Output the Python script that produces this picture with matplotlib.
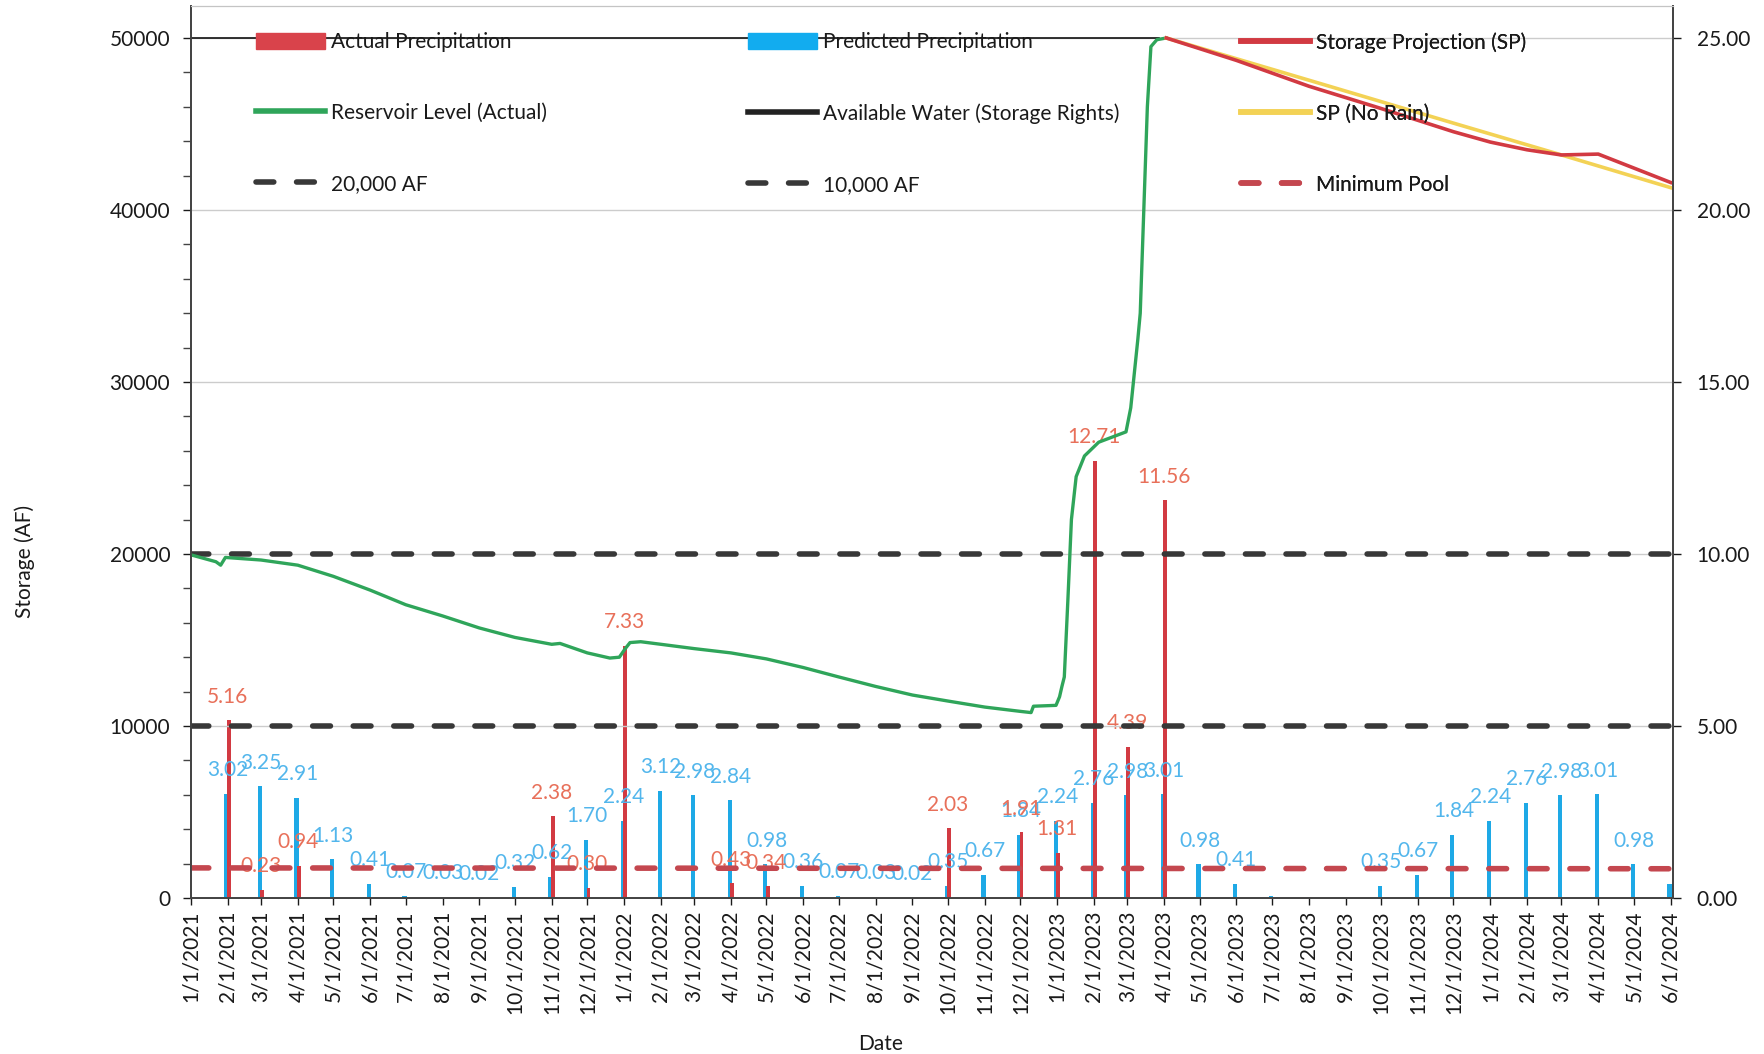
import matplotlib
matplotlib.use("Agg")
import matplotlib.pyplot as plt
from matplotlib.lines import Line2D
from matplotlib.patches import Patch
from matplotlib.ticker import MultipleLocator, FixedLocator
import pandas as pd

plt.rcParams["font.family"] = ["Lato", "DejaVu Sans"]
FS = 15

# monthly precipitation (inches, right axis)
PRED_DATES = pd.date_range("2021-02-01", "2024-06-01", freq="MS")
PRED_VALUES = [3.02, 3.25, 2.91, 1.13, 0.41, 0.07, 0.03, 0.02, 0.32, 0.62, 1.70,
               2.24, 3.12, 2.98, 2.84, 0.98, 0.36, 0.07, 0.03, 0.02, 0.35, 0.67, 1.84,
               2.24, 2.76, 2.98, 3.01, 0.98, 0.41, 0.07, 0.03, 0.02, 0.35, 0.67, 1.84,
               2.24, 2.76, 2.98, 3.01, 0.98, 0.41]
PRED_UNLABELED = ["2023-07-01", "2023-08-01", "2023-09-01", "2024-06-01"]

ACTUAL_DATES = ["2021-02-01", "2021-03-01", "2021-04-01", "2021-11-01", "2021-12-01",
                "2022-01-01", "2022-04-01", "2022-05-01", "2022-10-01", "2022-12-01",
                "2023-01-01", "2023-02-01", "2023-03-01", "2023-04-01"]
ACTUAL_VALUES = [5.16, 0.23, 0.94, 2.38, 0.30, 7.33, 0.43, 0.34, 2.03, 1.91,
                 1.31, 12.71, 4.39, 11.56]

# reservoir level (AF, left axis)
LEVEL_DATES = ["2021-01-01", "2021-01-22", "2021-01-26", "2021-01-30", "2021-03-01",
               "2021-04-01", "2021-05-01", "2021-06-01", "2021-07-01", "2021-08-01",
               "2021-09-01", "2021-10-01", "2021-11-01", "2021-11-08", "2021-12-01",
               "2021-12-20", "2021-12-28", "2022-01-02", "2022-01-06", "2022-01-15",
               "2022-02-01", "2022-03-01", "2022-04-01", "2022-05-01", "2022-06-01",
               "2022-07-01", "2022-08-01", "2022-09-01", "2022-10-01", "2022-11-01",
               "2022-12-01", "2022-12-10", "2022-12-12", "2022-12-31", "2023-01-03",
               "2023-01-05", "2023-01-07", "2023-01-10", "2023-01-13", "2023-01-17",
               "2023-01-24", "2023-02-05", "2023-02-28", "2023-03-04", "2023-03-07",
               "2023-03-10", "2023-03-12", "2023-03-15", "2023-03-18", "2023-03-21",
               "2023-03-26", "2023-04-03"]
LEVEL_VALUES = [19950, 19550, 19350, 19800, 19650,
                19350, 18700, 17900, 17050, 16400,
                15700, 15150, 14750, 14800, 14250,
                13950, 14000, 14500, 14850, 14900,
                14750, 14500, 14250, 13900, 13400,
                12850, 12300, 11800, 11450, 11100,
                10850, 10780, 11150, 11200, 11700,
                12300, 12850, 17300, 22000, 24500,
                25700, 26500, 27100, 28500, 30500,
                32500, 34000, 40000, 46000, 49500,
                49900, 50000]

STORAGE_RIGHTS_DATES = ["2021-01-01", "2023-03-28"]
STORAGE_RIGHTS_VALUES = [50000, 50000]

SP_DATES = ["2023-04-03", "2023-06-01", "2023-08-01", "2023-10-01", "2023-12-01",
            "2024-01-01", "2024-02-01", "2024-03-01", "2024-04-01", "2024-06-01"]
SP_VALUES = [50000, 48700, 47200, 45900, 44550, 43950, 43500, 43200, 43250, 41600]

NORAIN_DATES = ["2023-04-03", "2023-08-01", "2023-12-01", "2024-03-01", "2024-06-01"]
NORAIN_VALUES = [50000, 47550, 45050, 43200, 41300]

LINE_DATES = ["2021-01-01", "2024-06-03"]
AF20K = [20000, 20000]
AF10K = [10000, 10000]
MIN_POOL = [1750, 1700]

RED = "#d23a42"
BLUE = "#1ea9e6"
GREEN = "#2fa55a"
DARK = "#383838"
POOL = "#c4474f"
YELLOW = "#f3d255"
RED_TXT = "#e8705a"
BLUE_TXT = "#52b6ec"
TXT = "#1a1a1a"

fig = plt.figure(figsize=(17.64, 10.54), dpi=100)
ax = fig.add_axes([191 / 1764, 1 - 898 / 1054, (1673 - 191) / 1764, (898 - 6) / 1054])
ax2 = ax.twinx()
ax.set_zorder(ax2.get_zorder() + 1)
ax.patch.set_visible(False)

# precipitation bars
pred_x = pd.to_datetime(PRED_DATES)
act_x = pd.to_datetime(ACTUAL_DATES)
ax2.bar(pred_x - pd.Timedelta(days=1), PRED_VALUES, width=3.6, color=BLUE, lw=0)
ax2.bar(act_x + pd.Timedelta(days=1), ACTUAL_VALUES, width=3.2, color=RED, lw=0)
skip = set(pd.to_datetime(PRED_UNLABELED))
for d, v in zip(pred_x, PRED_VALUES):
    if d in skip:
        continue
    ax2.annotate(f"{v:.2f}", (d, v), xytext=(0, 17), textcoords="offset points",
                 ha="center", va="center", fontsize=FS, color=BLUE_TXT)
for d, v in zip(act_x, ACTUAL_VALUES):
    ax2.annotate(f"{v:.2f}", (d, v), xytext=(0, 17), textcoords="offset points",
                 ha="center", va="center", fontsize=FS, color=RED_TXT)

# storage lines
dash = dict(lw=4, dashes=(3.2, 4.1), dash_capstyle="round")
lx = pd.to_datetime(LINE_DATES)
ax.plot(lx, AF20K, color=DARK, **dash)
ax.plot(lx, AF10K, color=DARK, **dash)
ax.plot(lx, MIN_POOL, color=POOL, **dash)
ax.plot(pd.to_datetime(STORAGE_RIGHTS_DATES), STORAGE_RIGHTS_VALUES, color="#111111", lw=1.2)
ax.plot(pd.to_datetime(LEVEL_DATES), LEVEL_VALUES, color=GREEN, lw=2.4)
ax.plot(pd.to_datetime(NORAIN_DATES), NORAIN_VALUES, color=YELLOW, lw=2.6)
ax.plot(pd.to_datetime(SP_DATES), SP_VALUES, color=RED, lw=2.6)

# axes
ax.set_xlim(pd.Timestamp("2021-01-01"), pd.Timestamp("2024-06-03"))
ax.set_ylim(0, 51860)
ax2.set_ylim(0, 25.93)
ticks = pd.date_range("2021-01-01", "2024-06-01", freq="MS")
ax.set_xticks(ticks)
ax.set_xticklabels([f"{d.month}/{d.day}/{d.year}" for d in ticks], rotation=90)
ax.yaxis.set_major_locator(FixedLocator([0, 10000, 20000, 30000, 40000, 50000]))
ax.yaxis.set_minor_locator(MultipleLocator(2000))
ax2.yaxis.set_major_locator(FixedLocator([0, 5, 10, 15, 20, 25]))
ax2.set_yticklabels([f"{v:.2f}" for v in [0, 5, 10, 15, 20, 25]])
ax.yaxis.grid(True, color="#cccccc", lw=1)
for a in (ax, ax2):
    a.tick_params(labelsize=FS, colors=TXT, length=6, width=1, direction="out")
    for s in ("left", "right", "bottom"):
        a.spines[s].set_color("#444444")
        a.spines[s].set_linewidth(1.3)
    a.spines["top"].set_color("#c4c4c4")
ax.tick_params(axis="y", which="minor", length=6, width=1, color="#444444")
ax.tick_params(axis="x", length=5, pad=4)
ax.tick_params(axis="y", pad=9)
ax2.tick_params(axis="y", pad=11)

ax.set_ylabel("Storage (AF)", fontsize=FS, color=TXT)
ax.yaxis.set_label_coords(-0.105, 0.377)
ax.set_xlabel("Date", fontsize=FS, color=TXT)
ax.xaxis.set_label_coords(0.465, -0.153)

# legend in three columns
line = dict(lw=4)
cols = [
    ([Patch(color="#d9434b"), Line2D([], [], color=GREEN, **line),
      Line2D([], [], color=DARK, **dash)],
     ["Actual Precipitation", "Reservoir Level (Actual)", "20,000 AF"], 256),
    ([Patch(color="#12acef"), Line2D([], [], color="#222222", **line),
      Line2D([], [], color=DARK, **dash)],
     ["Predicted Precipitation", "Available Water (Storage Rights)", "10,000 AF"], 748),
    ([Line2D([], [], color=RED, **line), Line2D([], [], color=YELLOW, **line),
      Line2D([], [], color=POOL, **dash)],
     ["Storage Projection (SP)", "SP (No Rain)", "Minimum Pool"], 1241),
]
for handles, labels, x0 in cols:
    leg = ax.legend(handles, labels, loc="upper left", bbox_to_anchor=(x0 / 1764, 1 - 32 / 1054),
                    bbox_transform=fig.transFigure, frameon=False, fontsize=FS,
                    handlelength=3.3, handleheight=0.8, handletextpad=0.3,
                    labelspacing=2.45, borderpad=0, borderaxespad=0)
    for t in leg.get_texts():
        t.set_color(TXT)
    ax.add_artist(leg)

fig.savefig("out.png", dpi=100)
